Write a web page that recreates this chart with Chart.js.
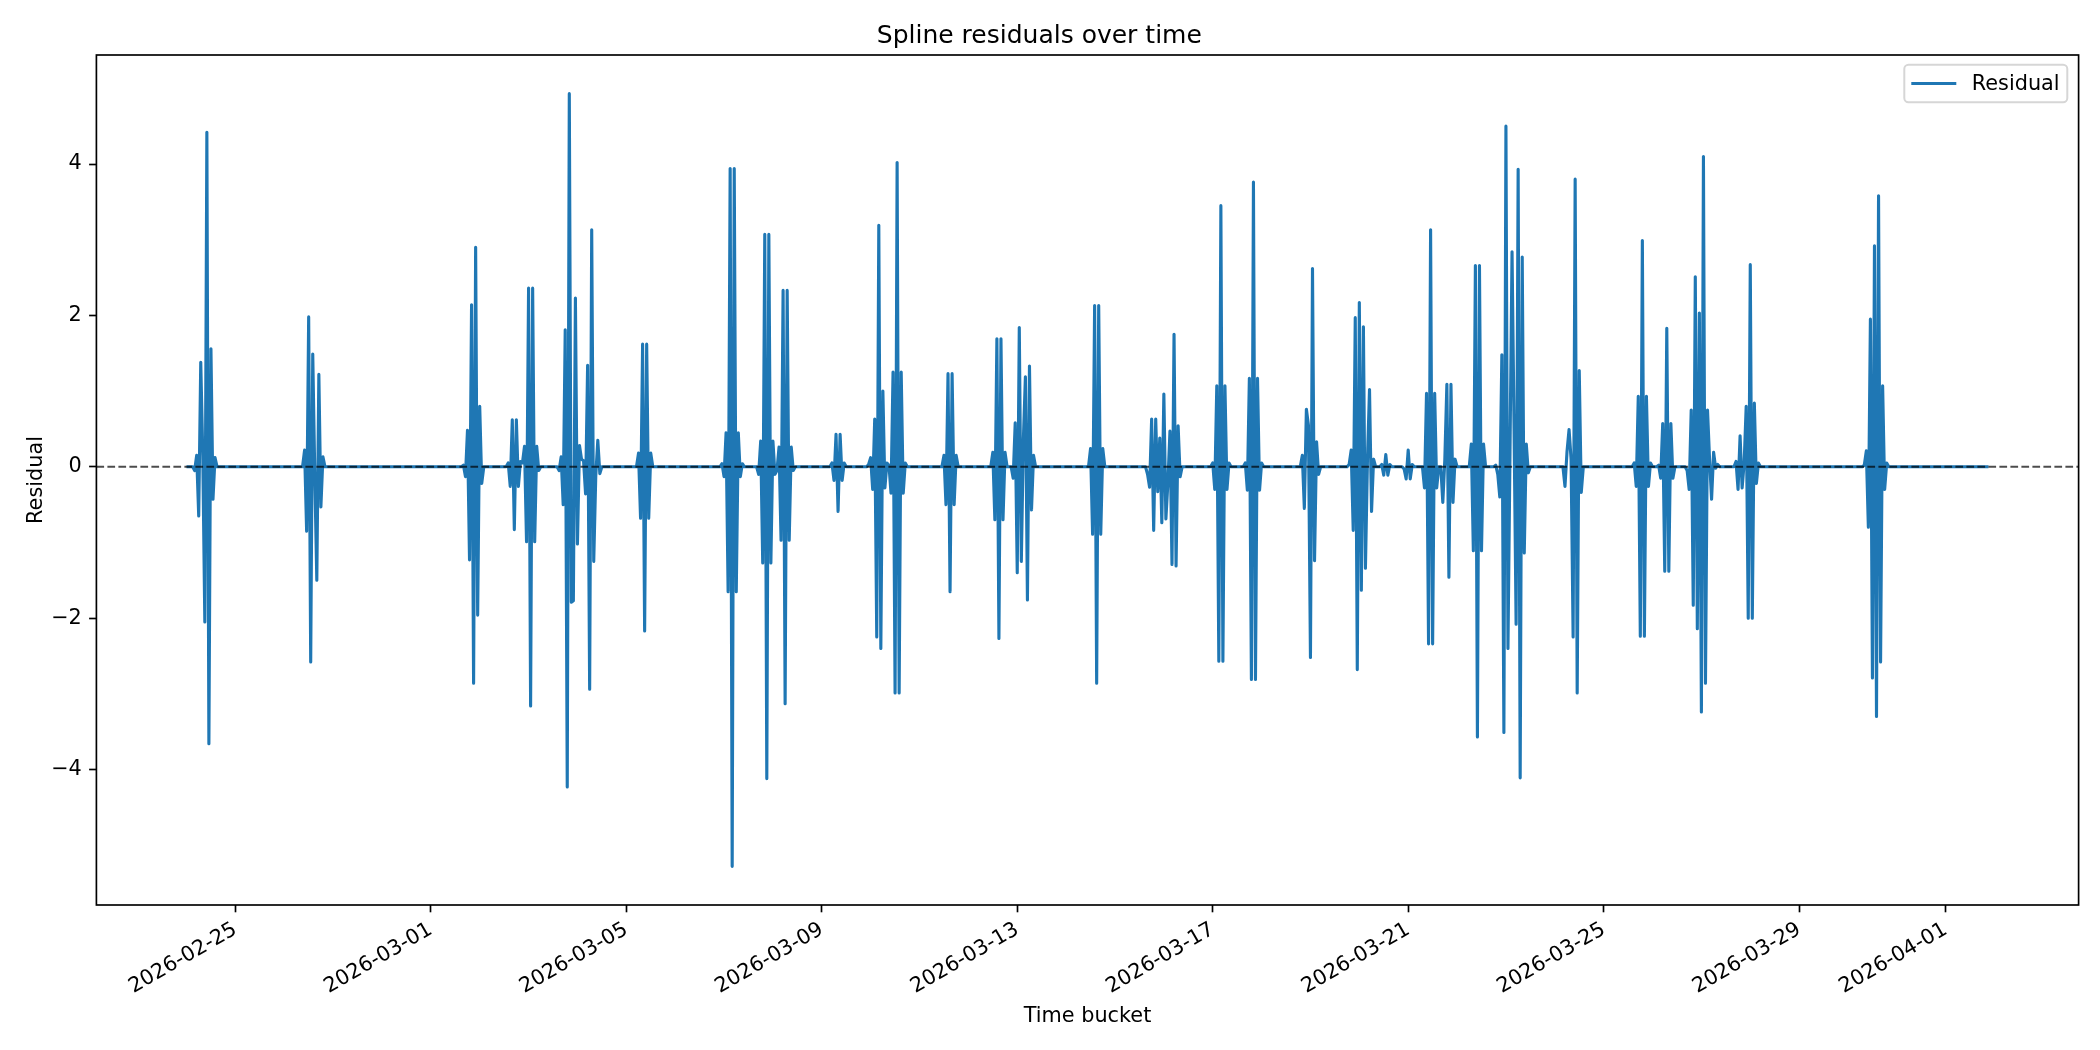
<!DOCTYPE html>
<html>
<head>
<meta charset="utf-8">
<script src="https://cdn.jsdelivr.net/npm/chart.js@4.4.1/dist/chart.umd.min.js"></script>
<style>
  html, body { margin: 0; padding: 0; background: #ffffff; }
  #wrap { width: 2100px; height: 1050px; position: relative; }
  canvas { display: block; }
</style>
</head>
<body>
<div id="wrap"><canvas id="chart" width="2100" height="1050"></canvas></div>
<script>
// ---------------- data ----------------
const chartTitle = 'Spline residuals over time';
const xAxisLabel = 'Time bucket';
const yAxisLabel = 'Residual';
const seriesLabel = 'Residual';
const firstBucket = '2026-02-24T00:00:00Z';   // hourly time buckets start here
const lastBucketHour = 885;                    // last bucket, hours after firstBucket
const xTickLabels = ['2026-02-25', '2026-03-01', '2026-03-05', '2026-03-09', '2026-03-13',
                     '2026-03-17', '2026-03-21', '2026-03-25', '2026-03-29', '2026-04-01'];
const yTickValues = [-4, -2, 0, 2, 4];

// hour offset (from firstBucket) of the first bucket of each burst
const burstStartHours = [3, 57, 135, 157, 182, 221, 262, 280, 290, 316, 334, 371, 395, 405, 443,
                         471, 503, 519, 547, 570, 586, 597, 607, 616, 630, 642, 676, 710, 722,
                         736, 760, 823];
// consecutive hourly residuals of each burst (residual is ~0 outside the bursts)
const burstResiduals = [
  [0.00, -0.05, 0.15, -0.65, 1.38, 0.15, -2.05, 4.42, -3.66, 1.56, -0.43, 0.12, 0.00],
  [0.00, 0.22, -0.85, 1.98, -2.58, 1.49, -0.10, -1.50, 1.22, -0.53, 0.13, 0.00],
  [0.00, 0.02, -0.13, 0.48, -1.23, 2.14, -2.86, 2.90, -1.96, 0.80, -0.22, 0.00],
  [0.00, 0.05, -0.26, 0.62, -0.83, 0.62, -0.26, 0.07, 0.05, 0.27, -0.99, 2.36, -3.16, 2.36, -0.99, 0.27, -0.05, 0.00],
  [0.00, -0.05, 0.13, -0.50, 1.81, -4.23, 4.93, -1.79, -1.77, 2.23, -1.02, 0.28, 0.10, 0.08, -0.36, 1.34, -2.94, 3.13, -1.25, -0.12, 0.35, -0.09, 0.00],
  [0.00, 0.18, -0.68, 1.62, -2.17, 1.62, -0.68, 0.18, 0.00],
  [0.00, 0.04, -0.13, 0.45, -1.65, 3.94, -5.28, 3.94, -1.65, 0.45, -0.13, 0.04, 0.00],
  [0.00, -0.10, 0.34, -1.27, 3.07, -4.12, 3.07, -1.27, 0.34, -0.10],
  [-0.05, 0.26, -0.97, 2.33, -3.13, 2.33, -0.97, 0.26, -0.05, 0.00],
  [0.00, 0.05, -0.18, 0.43, -0.59, 0.43, -0.18, 0.05, 0.00],
  [0.00, 0.03, 0.12, -0.30, 0.63, -2.25, 3.19, -2.40, 1.00, -0.28, 0.05, 0.02, -0.35, 1.25, -2.99, 4.02, -2.99, 1.25, -0.35, 0.05, 0.00],
  [0.00, 0.15, -0.50, 1.23, -1.65, 1.23, -0.50, 0.15, 0.00],
  [0.00, 0.19, -0.70, 1.69, -2.27, 1.69, -0.70, 0.19, 0.00],
  [0.00, -0.15, 0.58, -1.40, 1.84, -1.25, 0.35, 1.19, -1.76, 1.33, -0.57, 0.15, 0.00],
  [0.00, 0.24, -0.89, 2.13, -2.86, 2.13, -0.89, 0.24, 0.00],
  [0.00, -0.10, -0.27, 0.63, -0.84, 0.63, -0.33, 0.38, -0.74, 0.96, -0.69, -0.20, 0.47, -1.29, 1.75, -1.31, 0.54, -0.13, 0.00],
  [0.00, 0.05, -0.30, 1.07, -2.57, 3.45, -2.57, 1.07, -0.30, 0.05, 0.00],
  [0.00, 0.05, -0.31, 1.17, -2.81, 3.76, -2.81, 1.17, -0.31, 0.05, 0.00],
  [0.00, 0.15, -0.55, 0.76, 0.55, -2.52, 2.62, -1.24, 0.33, -0.10, 0.00],
  [0.00, 0.03, 0.22, -0.84, 1.97, -2.68, 2.17, -1.63, 1.85, -1.34, 0.10, 1.02, -0.59, 0.10, 0.00],
  [0.00, 0.03, -0.11, 0.16, -0.11, 0.03, 0.00],
  [0.00, -0.03, -0.16, 0.22, -0.16, 0.03, 0.00],
  [0.00, -0.28, 0.97, -2.34, 3.13, -2.34, 0.97, -0.28, 0.00],
  [0.00, -0.47, 0.10, 1.09, -1.46, 1.09, -0.47, 0.10, 0.00],
  [0.00, 0.30, -1.11, 2.66, -3.57, 2.66, -1.11, 0.30, 0.00],
  [0.00, 0.02, -0.10, -0.40, 1.48, -3.51, 4.50, -2.40, 0.20, 2.84, 0.50, -2.08, 3.93, -4.11, 2.77, -1.14, 0.30, -0.08, 0.00],
  [0.00, -0.26, 0.20, 0.49, 0.10, -2.25, 3.80, -2.99, 1.27, -0.34, 0.00],
  [0.00, 0.05, -0.26, 0.93, -2.24, 2.99, -2.24, 0.93, -0.26, 0.05, 0.00],
  [0.00, 0.02, -0.15, 0.57, -1.38, 1.83, -1.38, 0.57, -0.15, 0.00],
  [0.00, -0.05, -0.30, 0.75, -1.83, 2.51, -2.14, 2.03, -3.24, 4.10, -2.86, 0.75, 0.10, -0.43, 0.19, -0.02, 0.03, 0.00],
  [0.00, 0.07, -0.30, 0.41, -0.28, 0.05, 0.80, -2.00, 2.67, -2.00, 0.84, -0.22, 0.05, 0.00],
  [0.00, 0.02, 0.21, -0.80, 1.95, -2.79, 2.92, -3.30, 3.58, -2.58, 1.07, -0.30, 0.05, 0.00]
];

// ---------------- build series ----------------
const HOUR = 3600 * 1000;
const t0 = Date.parse(firstBucket);
const points = [{ x: t0, y: 0 }];
burstStartHours.forEach((start, i) => {
  burstResiduals[i].forEach((v, j) => points.push({ x: t0 + (start + j) * HOUR, y: v }));
});
points.push({ x: t0 + lastBucketHour * HOUR, y: 0 });

const xs = points.map(p => p.x), ys = points.map(p => p.y);
const xMinD = Math.min(...xs), xMaxD = Math.max(...xs);
const yMinD = Math.min(...ys), yMaxD = Math.max(...ys);
const xPad = 0.05 * (xMaxD - xMinD), yPad = 0.05 * (yMaxD - yMinD);
const xMin = xMinD - xPad, xMax = xMaxD + xPad;
const yMin = yMinD - yPad, yMax = yMaxD + yPad;

// ---------------- styling ----------------
const FONT = '"DejaVu Sans", "Liberation Sans", sans-serif';
const BLUE = '#1f77b4';
Chart.defaults.font.family = FONT;
Chart.defaults.color = '#000000';

const framePlugin = {
  id: 'frameAndLegend',
  afterDraw(chart) {
    const { ctx, chartArea: a } = chart;
    ctx.save();
    // axes frame (spines)
    ctx.strokeStyle = '#000000';
    ctx.lineWidth = 1.67;
    ctx.strokeRect(a.left, a.top, a.right - a.left, a.bottom - a.top);
    // legend box (upper right, inside axes)
    const bw = 163, bh = 37.5;
    const bx = a.right - 11.3 - bw, by = a.top + 9.7;
    const r = 4.2;
    ctx.beginPath();
    ctx.moveTo(bx + r, by);
    ctx.lineTo(bx + bw - r, by);
    ctx.arcTo(bx + bw, by, bx + bw, by + r, r);
    ctx.lineTo(bx + bw, by + bh - r);
    ctx.arcTo(bx + bw, by + bh, bx + bw - r, by + bh, r);
    ctx.lineTo(bx + r, by + bh);
    ctx.arcTo(bx, by + bh, bx, by + bh - r, r);
    ctx.lineTo(bx, by + r);
    ctx.arcTo(bx, by, bx + r, by, r);
    ctx.closePath();
    ctx.fillStyle = 'rgba(255,255,255,0.8)';
    ctx.fill();
    ctx.strokeStyle = '#d6d6d6';
    ctx.lineWidth = 2;
    ctx.stroke();
    const ds = chart.data.datasets[1];
    const ly = by + bh / 2;
    ctx.beginPath();
    ctx.moveTo(bx + 7, ly);
    ctx.lineTo(bx + 52, ly);
    ctx.strokeStyle = ds.borderColor;
    ctx.lineWidth = ds.borderWidth;
    ctx.lineCap = 'butt';
    ctx.stroke();
    ctx.fillStyle = '#000000';
    ctx.font = '20.8px ' + FONT;
    ctx.textAlign = 'left';
    ctx.textBaseline = 'middle';
    ctx.fillText(ds.label, bx + 67.5, ly + 1);
    ctx.restore();
  }
};

new Chart(document.getElementById('chart'), {
  type: 'line',
  data: {
    datasets: [
      {
        label: 'zero',
        data: [{ x: xMin, y: 0 }, { x: xMax, y: 0 }],
        borderColor: 'rgba(0,0,0,0.7)',
        borderWidth: 2.08,
        borderDash: [7.7, 3.3],
        pointRadius: 0,
        tension: 0,
        order: 0
      },
      {
        label: seriesLabel,
        data: points,
        borderColor: BLUE,
        backgroundColor: BLUE,
        borderWidth: 3.125,
        borderJoinStyle: 'round',
        borderCapStyle: 'butt',
        pointRadius: 0,
        tension: 0,
        fill: false,
        order: 1
      }
    ]
  },
  options: {
    responsive: false,
    animation: false,
    devicePixelRatio: 1,
    events: [],
    layout: { padding: { left: 0, right: 21.4, top: 0, bottom: 0 } },
    plugins: {
      legend: { display: false },
      tooltip: { enabled: false },
      title: {
        display: true,
        text: chartTitle,
        color: '#000000',
        font: { family: FONT, size: 25, weight: 'normal' },
        padding: { top: 21.8, bottom: 3.2 }
      }
    },
    scales: {
      x: {
        type: 'linear',
        min: xMin,
        max: xMax,
        afterFit(scale) { scale.height = 145; },
        afterBuildTicks(scale) {
          scale.ticks = xTickLabels.map(l => ({ value: Date.parse(l + 'T00:00:00Z') }));
        },
        grid: {
          display: true, drawOnChartArea: false, drawTicks: true,
          tickLength: 7.3, tickWidth: 1.67, tickColor: '#000000'
        },
        border: { display: false },
        ticks: {
          autoSkip: false,
          minRotation: 30,
          maxRotation: 30,
          padding: 5,
          color: '#000000',
          font: { family: FONT, size: 20.8 },
          callback(value, index) { return xTickLabels[index]; }
        },
        title: {
          display: true,
          text: xAxisLabel,
          color: '#000000',
          font: { family: FONT, size: 20.8 },
          padding: { top: 0, bottom: 20.8 }
        }
      },
      y: {
        type: 'linear',
        min: yMin,
        max: yMax,
        afterFit(scale) { scale.width = 96.4; },
        afterBuildTicks(scale) { scale.ticks = yTickValues.map(v => ({ value: v })); },
        grid: {
          display: true, drawOnChartArea: false, drawTicks: true,
          tickLength: 7.3, tickWidth: 1.67, tickColor: '#000000'
        },
        border: { display: false },
        ticks: {
          padding: 7.3,
          color: '#000000',
          font: { family: FONT, size: 20.8 },
          callback(value) { return value < 0 ? '\u2212' + Math.abs(value) : String(value); }
        },
        title: {
          display: true,
          text: yAxisLabel,
          color: '#000000',
          font: { family: FONT, size: 20.8 },
          padding: { top: 24, bottom: 0 }
        }
      }
    }
  },
  plugins: [framePlugin]
});
</script>
</body>
</html>
